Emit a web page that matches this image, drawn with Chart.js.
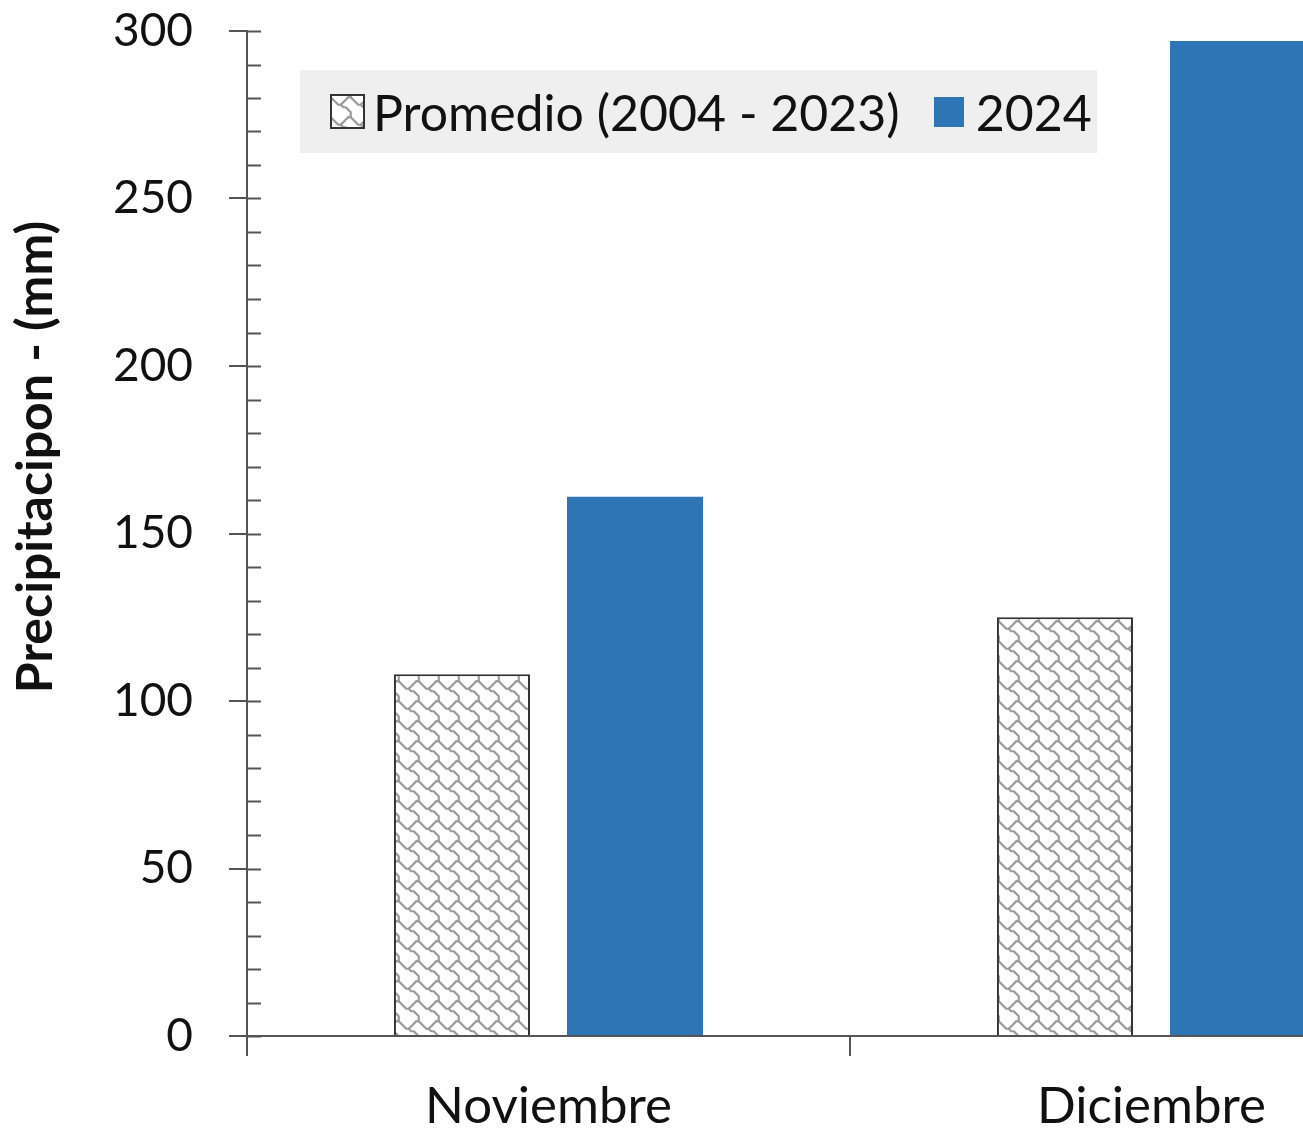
<!DOCTYPE html>
<html lang="es">
<head>
  <meta charset="UTF-8" />
  <title>Precipitación</title>
  <script src="https://cdn.jsdelivr.net/npm/chart.js"></script>
  <style>
    html, body {
      margin: 0;
      padding: 0;
      overflow: hidden;
      background: #ffffff;
      font-family: Lato, sans-serif;
    }

    .wrap {
      position: relative;
      width: 1303px;
      height: 1135px;
      overflow: hidden;
    }

    .legend {
      position: absolute;
      left: 300px;
      top: 70px;
      width: 797px;
      height: 83px;
      background: #efefef;
      display: flex;
      align-items: center;
      font-size: 50px;
      color: #111;
    }

    .legend .sw {
      display: inline-block;
      width: 35px;
      height: 35px;
      box-sizing: border-box;
    }

    .legend .hatch {
      margin-left: 30px;
      margin-right: 8px;
      border: 2px solid #333;
    }

    .legend .blue {
      margin-left: 34px;
      margin-right: 12px;
      width: 30px;
      height: 30px;
      background: #2e75b6;
    }
  </style>
</head>
<body>
  <div class="wrap">
    <canvas id="rainChart" width="1460" height="1135"></canvas>
    <div class="legend">
      <span class="sw hatch" id="hatchSwatch"></span><span>Promedio (2004 - 2023)</span>
      <span class="sw blue"></span><span>2024</span>
    </div>
  </div>

  <script>
    const months = ["Noviembre", "Diciembre"];
    const promedio = [108, 125];
    const lluvia2024 = [161, 297];
    const yTicks = [0, 50, 100, 150, 200, 250, 300];
    const yTitle = "Precipitacipon - (mm)";

    // Excel-like "shingle" hatch, 8x8 cell grid scaled up
    function makeHatch() {
      const k = 2.5;
      const s = 8 * k;
      const c = document.createElement("canvas");
      c.width = s;
      c.height = s;
      const g = c.getContext("2d");
      g.fillStyle = "#ffffff";
      g.fillRect(0, 0, s, s);
      g.strokeStyle = "#9a9a9a";
      g.lineWidth = 2.2;
      g.lineJoin = "round";
      g.lineCap = "round";
      const paths = [
        [[-1, 0], [0, 1], [1, 2], [2, 3], [3, 3]],
        [[6, 0], [5, 1], [4, 2], [3, 3]],
        [[3, 3], [4, 4], [5, 4], [6, 5], [7, 6], [7, 7], [7, 8]],
        [[7, 0], [6, 0]]
      ];
      for (let ox = -s; ox <= s; ox += s) {
        for (let oy = -s; oy <= s; oy += s) {
          paths.forEach(p => {
            g.beginPath();
            p.forEach(([x, y], i) => {
              const px = (x + 0.5) * k + ox;
              const py = (y + 0.5) * k + oy;
              if (i === 0) g.moveTo(px, py); else g.lineTo(px, py);
            });
            g.stroke();
          });
        }
      }
      return c;
    }

    const hatchTile = makeHatch();
    const ctx = document.getElementById("rainChart").getContext("2d");
    const hatch = ctx.createPattern(hatchTile, "repeat");
    document.getElementById("hatchSwatch").style.background =
      "url(" + hatchTile.toDataURL() + ")";

    // ticks on both sides for majors, inside only for minors, and the y title
    const axisDeco = {
      id: "axisDeco",
      afterDraw(chart) {
        const y = chart.scales.y;
        const x0 = chart.chartArea.left;
        const c = chart.ctx;
        c.save();
        c.strokeStyle = "#555";
        c.lineWidth = 2;
        c.beginPath();
        for (let v = 0; v <= 300; v += 10) {
          const py = Math.round(y.getPixelForValue(v)) + 0.5;
          c.moveTo(x0, py);
          c.lineTo(x0 + 14, py);
        }
        c.stroke();

        c.fillStyle = "#111";
        c.font = "bold 50px Lato";
        c.textAlign = "center";
        c.textBaseline = "middle";
        c.translate(36, 457);
        c.rotate(-Math.PI / 2);
        c.fillText(yTitle, 0, 0);
        c.restore();
      }
    };

    new Chart(ctx, {
      type: "bar",
      data: {
        labels: months,
        datasets: [
          {
            label: "Promedio (2004 - 2023)",
            data: promedio,
            backgroundColor: hatch,
            borderColor: "#333",
            borderWidth: 2,
            borderSkipped: "bottom"
          },
          {
            label: "2024",
            data: lluvia2024,
            backgroundColor: "#2e75b6",
            borderWidth: 0
          }
        ]
      },
      options: {
        responsive: false,
        devicePixelRatio: 1,
        animation: false,
        categoryPercentage: 0.574,
        barPercentage: 0.786,
        layout: {
          padding: { top: 31, right: 7, left: 0, bottom: 0 }
        },
        plugins: {
          legend: { display: false },
          tooltip: { enabled: false }
        },
        scales: {
          x: {
            offset: true,
            afterFit(scale) { scale.height = 99; },
            grid: {
              offset: true,
              drawOnChartArea: false,
              drawTicks: true,
              tickLength: 20,
              color: "#555",
              lineWidth: 2
            },
            border: { color: "#555", width: 2 },
            ticks: {
              color: "#111",
              padding: 20,
              font: { family: "Lato", size: 51 }
            }
          },
          y: {
            min: 0,
            max: 300,
            afterFit(scale) {
              scale.width = 247;
              scale.paddingTop = 0;
              scale.paddingBottom = 0;
            },
            afterBuildTicks(scale) {
              scale.ticks = yTicks.map(v => ({ value: v }));
            },
            grid: {
              drawOnChartArea: false,
              drawTicks: true,
              tickLength: 18,
              color: "#555",
              lineWidth: 2
            },
            border: { color: "#555", width: 2 },
            ticks: {
              color: "#111",
              padding: 36,
              font: { family: "Lato", size: 46 }
            }
          }
        }
      },
      plugins: [axisDeco]
    });
  </script>
</body>
</html>
